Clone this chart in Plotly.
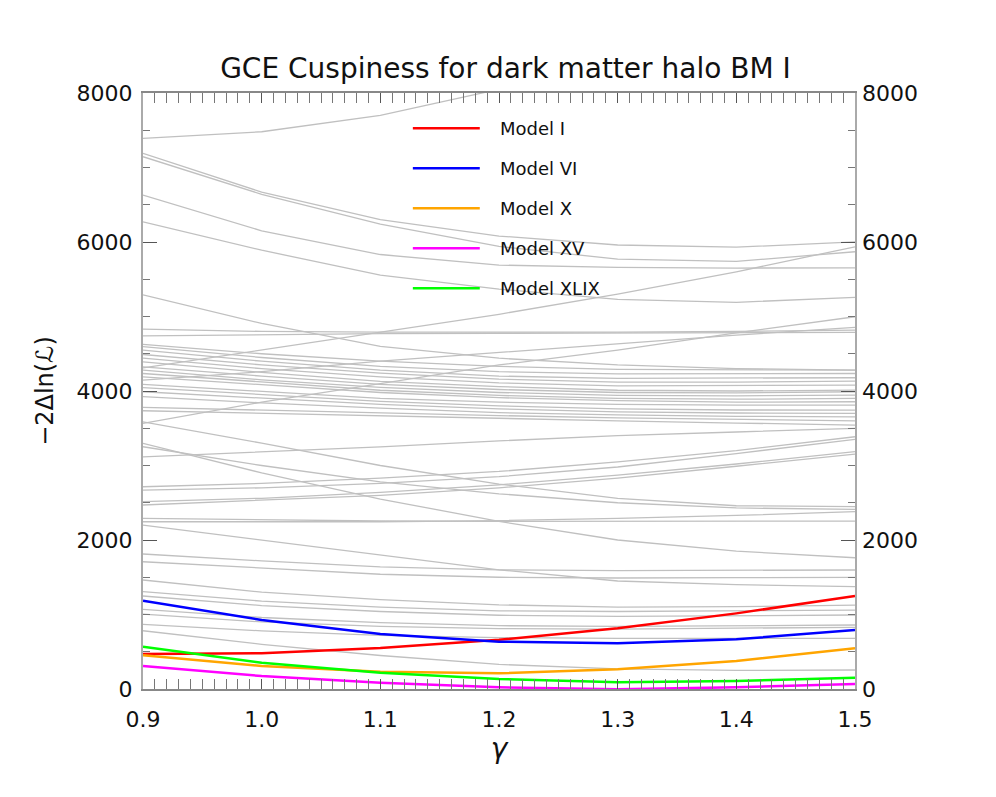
import plotly.graph_objects as go

gamma = [0.9, 1.0, 1.1, 1.2, 1.3, 1.4, 1.5]

# highlighted models
model_names = ["Model I", "Model VI", "Model X", "Model XV", "Model XLIX"]
model_colors = ["#ff0000", "#0000ff", "#ffa500", "#ff00ff", "#00ff00"]
model_I = [470, 480, 550, 660, 815, 1015, 1248]
model_VI = [1185, 926, 738, 635, 613, 667, 792]
model_X = [452, 309, 232, 210, 264, 376, 546]
model_XV = [309, 174, 85, 23, -5, 23, 67]
model_XLIX = [568, 353, 219, 134, 90, 107, 152]

# all the other models (grey)
other_models = [
    [7390, 7480, 7700, 8050, 8400, 8750, 9100],
    [7190, 6670, 6300, 6080, 5960, 5930, 6003],
    [7145, 6640, 6240, 5940, 5770, 5740, 5869],
    [6630, 6150, 5832, 5690, 5660, 5650, 5654],
    [6270, 5890, 5555, 5368, 5230, 5190, 5257],
    [5290, 4907, 4600, 4440, 4350, 4300, 4280],
    [4310, 4550, 4800, 5030, 5300, 5600, 5936],
    [3565, 3850, 4100, 4350, 4550, 4780, 4997],
    [4145, 4260, 4400, 4520, 4640, 4750, 4854],
    [4830, 4800, 4790, 4785, 4790, 4800, 4818],
    [4740, 4760, 4770, 4775, 4780, 4785, 4787],
    [4625, 4500, 4400, 4330, 4290, 4280, 4280],
    [4595, 4450, 4330, 4260, 4230, 4230, 4235],
    [4550, 4400, 4280, 4200, 4170, 4170, 4178],
    [4490, 4350, 4240, 4160, 4120, 4120, 4133],
    [4440, 4300, 4190, 4110, 4070, 4070, 4080],
    [4390, 4250, 4130, 4060, 4010, 4000, 4013],
    [4325, 4200, 4090, 4020, 3980, 3975, 3990],
    [4280, 4150, 4050, 3980, 3940, 3935, 3945],
    [4235, 4120, 4010, 3940, 3900, 3890, 3900],
    [4190, 4080, 3980, 3910, 3870, 3850, 3856],
    [4090, 3990, 3900, 3850, 3820, 3810, 3811],
    [4045, 3950, 3860, 3800, 3760, 3745, 3744],
    [3990, 3900, 3820, 3760, 3720, 3705, 3700],
    [3925, 3840, 3770, 3710, 3680, 3660, 3654],
    [3780, 3740, 3700, 3670, 3640, 3620, 3600],
    [3735, 3700, 3660, 3630, 3600, 3570, 3543],
    [3117, 3180, 3250, 3330, 3400, 3450, 3499],
    [2715, 2760, 2830, 2920, 3050, 3200, 3386],
    [2670, 2700, 2760, 2850, 2980, 3160, 3351],
    [2514, 2560, 2640, 2740, 2870, 3020, 3185],
    [2470, 2530, 2600, 2700, 2830, 2990, 3154],
    [3587, 3300, 3000, 2750, 2560, 2460, 2447],
    [3252, 3000, 2780, 2620, 2500, 2430, 2411],
    [3297, 2900, 2550, 2250, 2000, 1850, 1762],
    [2290, 2270, 2255, 2250, 2250, 2252, 2254],
    [2245, 2240, 2245, 2260, 2290, 2330, 2380],
    [2200, 2000, 1800, 1600, 1450, 1400, 1373],
    [1812, 1720, 1640, 1600, 1590, 1595, 1597],
    [1708, 1620, 1540, 1500, 1490, 1495, 1499],
    [1463, 1300, 1200, 1130, 1100, 1105, 1127],
    [1306, 1180, 1100, 1050, 1040, 1045, 1060],
    [1248, 1120, 1040, 990, 975, 980, 993],
    [1070, 960, 890, 850, 840, 845, 859],
    [1006, 900, 840, 810, 805, 815, 828],
    [868, 780, 720, 690, 680, 680, 680],
    [782, 600, 450, 330, 270, 250, 255],
]

y_ticks = [0, 2000, 4000, 6000, 8000]

fig = go.Figure()

for vals in other_models:
    fig.add_trace(go.Scatter(x=gamma, y=vals, mode="lines",
                             line=dict(color="#c0c0c0", width=1.3),
                             showlegend=False, hoverinfo="skip"))

model_vals = [model_I, model_VI, model_X, model_XV, model_XLIX]
for name, col, vals in zip(model_names, model_colors, model_vals):
    fig.add_trace(go.Scatter(x=gamma, y=vals, mode="lines", name=name,
                             line=dict(color=col, width=2.5), showlegend=False))

# empty trace so the right-hand axis gets drawn
fig.add_trace(go.Scatter(x=[], y=[], yaxis="y2", showlegend=False))

# IDL-style legend: line sample + label
for i, (name, col) in enumerate(zip(model_names, model_colors)):
    yy = 0.941 - i * 0.0671
    fig.add_shape(type="line", xref="paper", yref="paper",
                  x0=0.379, x1=0.473, y0=yy, y1=yy,
                  line=dict(color=col, width=2.5))
    fig.add_annotation(xref="paper", yref="paper", x=0.4986, y=yy,
                       text=name, showarrow=False, xanchor="left",
                       yanchor="middle", font=dict(size=18, color="#111"))

axis_font = dict(family="DejaVu Sans", size=22, color="#111")

# page body has an 8px margin, so the figure is a bit smaller than the window
fig.update_layout(
    width=988, height=789,
    margin=dict(l=135, r=141, t=85, b=108),
    plot_bgcolor="white", paper_bgcolor="white",
    font=dict(family="DejaVu Sans", color="#111"),
    title=dict(text="GCE Cuspiness for dark matter halo BM I",
               x=0.5035, xanchor="center", y=0.924, yanchor="middle",
               font=dict(size=28, color="#111")),
    xaxis=dict(range=[0.9, 1.5], dtick=0.1, tickformat=".1f",
               ticks="inside", ticklen=10, tickcolor="#555",
               mirror="allticks", showline=True, linecolor="#888", linewidth=1.5,
               showgrid=False, zeroline=False, tickfont=axis_font,
               ticklabelstandoff=10,
               minor=dict(dtick=0.01, ticks="inside", ticklen=5, tickcolor="#777",
                          showgrid=False),
               title=dict(text="<i>γ</i>", font=dict(size=28), standoff=6)),
    yaxis=dict(range=[0, 8000], tickvals=y_ticks,
               ticks="inside", ticklen=14, tickcolor="#555",
               mirror="allticks", showline=True, linecolor="#aaa", linewidth=2,
               showgrid=False, zeroline=False, tickfont=axis_font,
               ticklabelstandoff=4,
               minor=dict(dtick=500, ticks="inside", ticklen=7, tickcolor="#777",
                          showgrid=False),
               title=dict(text="−2Δln(ℒ)", font=dict(size=24), standoff=16)),
    yaxis2=dict(range=[0, 8000], tickvals=y_ticks, overlaying="y", side="right",
                showline=False, ticks="", showgrid=False, zeroline=False,
                tickfont=axis_font, ticklabelstandoff=6),
)

fig.write_html("out.html")
